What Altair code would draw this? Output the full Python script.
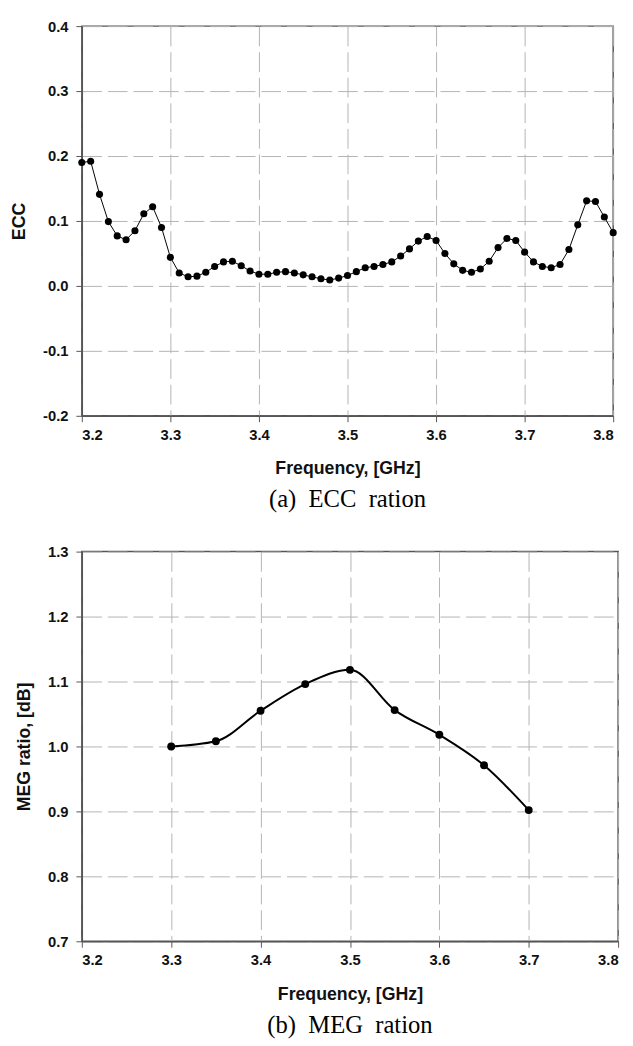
import altair as alt
import pandas as pd

# ---- data (a) ECC ----
ecc_freq = [3.20, 3.21, 3.22, 3.23, 3.24, 3.25, 3.26, 3.27, 3.28, 3.29,
            3.30, 3.31, 3.32, 3.33, 3.34, 3.35, 3.36, 3.37, 3.38, 3.39,
            3.40, 3.41, 3.42, 3.43, 3.44, 3.45, 3.46, 3.47, 3.48, 3.49,
            3.50, 3.51, 3.52, 3.53, 3.54, 3.55, 3.56, 3.57, 3.58, 3.59,
            3.60, 3.61, 3.62, 3.63, 3.64, 3.65, 3.66, 3.67, 3.68, 3.69,
            3.70, 3.71, 3.72, 3.73, 3.74, 3.75, 3.76, 3.77, 3.78, 3.79,
            3.80]
ecc_value = [0.190, 0.192, 0.141, 0.099, 0.077, 0.071, 0.085, 0.111, 0.122, 0.090,
             0.044, 0.020, 0.014, 0.015, 0.021, 0.030, 0.037, 0.038, 0.031, 0.023,
             0.018, 0.018, 0.021, 0.022, 0.020, 0.017, 0.014, 0.011, 0.009, 0.012,
             0.016, 0.022, 0.028, 0.030, 0.033, 0.037, 0.046, 0.057, 0.069, 0.076,
             0.070, 0.050, 0.034, 0.024, 0.021, 0.026, 0.038, 0.059, 0.073, 0.070,
             0.052, 0.037, 0.030, 0.028, 0.033, 0.056, 0.094, 0.131, 0.130, 0.106,
             0.082]

# ---- data (b) MEG ----
meg_freq = [3.30, 3.35, 3.40, 3.45, 3.50, 3.55, 3.60, 3.65, 3.70]
meg_value = [1.000, 1.008, 1.055, 1.096, 1.118, 1.056, 1.018, 0.971, 0.902]

x_ticks = [3.2, 3.3, 3.4, 3.5, 3.6, 3.7, 3.8]
ecc_ticks = [-0.2, -0.1, 0.0, 0.1, 0.2, 0.3, 0.4]
meg_ticks = [0.7, 0.8, 0.9, 1.0, 1.1, 1.2, 1.3]

ecc_df = pd.DataFrame({"freq": ecc_freq, "ecc": ecc_value})
meg_df = pd.DataFrame({"freq": meg_freq, "meg": meg_value})

label_expr = "replace(format(datum.value, '.1f'), '\u2212', '-')"
SP = "\u00a0\u00a0"

x_enc = alt.X("freq:Q", scale=alt.Scale(domain=[3.2, 3.8], nice=False),
              axis=alt.Axis(values=x_ticks, format=".1f", title="Frequency, [GHz]"))

# top chart
ecc_y = alt.Y("ecc:Q", scale=alt.Scale(domain=[-0.2, 0.4], nice=False),
              axis=alt.Axis(values=ecc_ticks, labelExpr=label_expr, title="ECC"))
ecc_base = alt.Chart(ecc_df).encode(x=x_enc, y=ecc_y)
ecc_chart = alt.layer(
    ecc_base.mark_line(color="black", strokeWidth=1),
    ecc_base.mark_circle(color="black", size=52, opacity=1),
).properties(width=540, height=396,
             title=alt.TitleParams("(a)" + SP + "ECC" + SP + "ration", orient="bottom"))

# bottom chart
meg_y = alt.Y("meg:Q", scale=alt.Scale(domain=[0.7, 1.3], nice=False),
              axis=alt.Axis(values=meg_ticks, labelExpr=label_expr, title="MEG ratio, [dB]"))
meg_base = alt.Chart(meg_df).encode(x=x_enc, y=meg_y)
meg_chart = alt.layer(
    meg_base.mark_line(color="black", strokeWidth=2, interpolate="monotone"),
    meg_base.mark_circle(color="black", size=64, opacity=1),
).properties(width=545, height=396,
             title=alt.TitleParams("(b)" + SP + "MEG" + SP + "ration", orient="bottom"))

chart = alt.vconcat(ecc_chart, meg_chart, spacing=31).properties(
    padding={"left": 2, "top": 2, "right": 5, "bottom": 0}
).configure_view(
    stroke="#555555", strokeWidth=1.5
).configure_axis(
    labelFont="Liberation Sans", labelFontWeight="bold", labelFontSize=15,
    labelColor="#111111", labelPadding=8,
    titleFont="Liberation Sans", titleFontWeight="bold", titleFontSize=18,
    titleColor="#111111",
    grid=True, gridDash=[20, 6], gridColor="#b4b4b4", gridWidth=1,
    domainColor="#555555", domainWidth=1.5,
    tickColor="#555555", tickSize=6, tickWidth=1,
).configure_axisX(titlePadding=18, labelPadding=6).configure_axisY(titlePadding=14).configure_title(
    font="Liberation Serif", fontSize=25, fontWeight="normal", color="black", offset=10
)

chart.save("out.html", embed_options={"renderer": "svg", "actions": False})
